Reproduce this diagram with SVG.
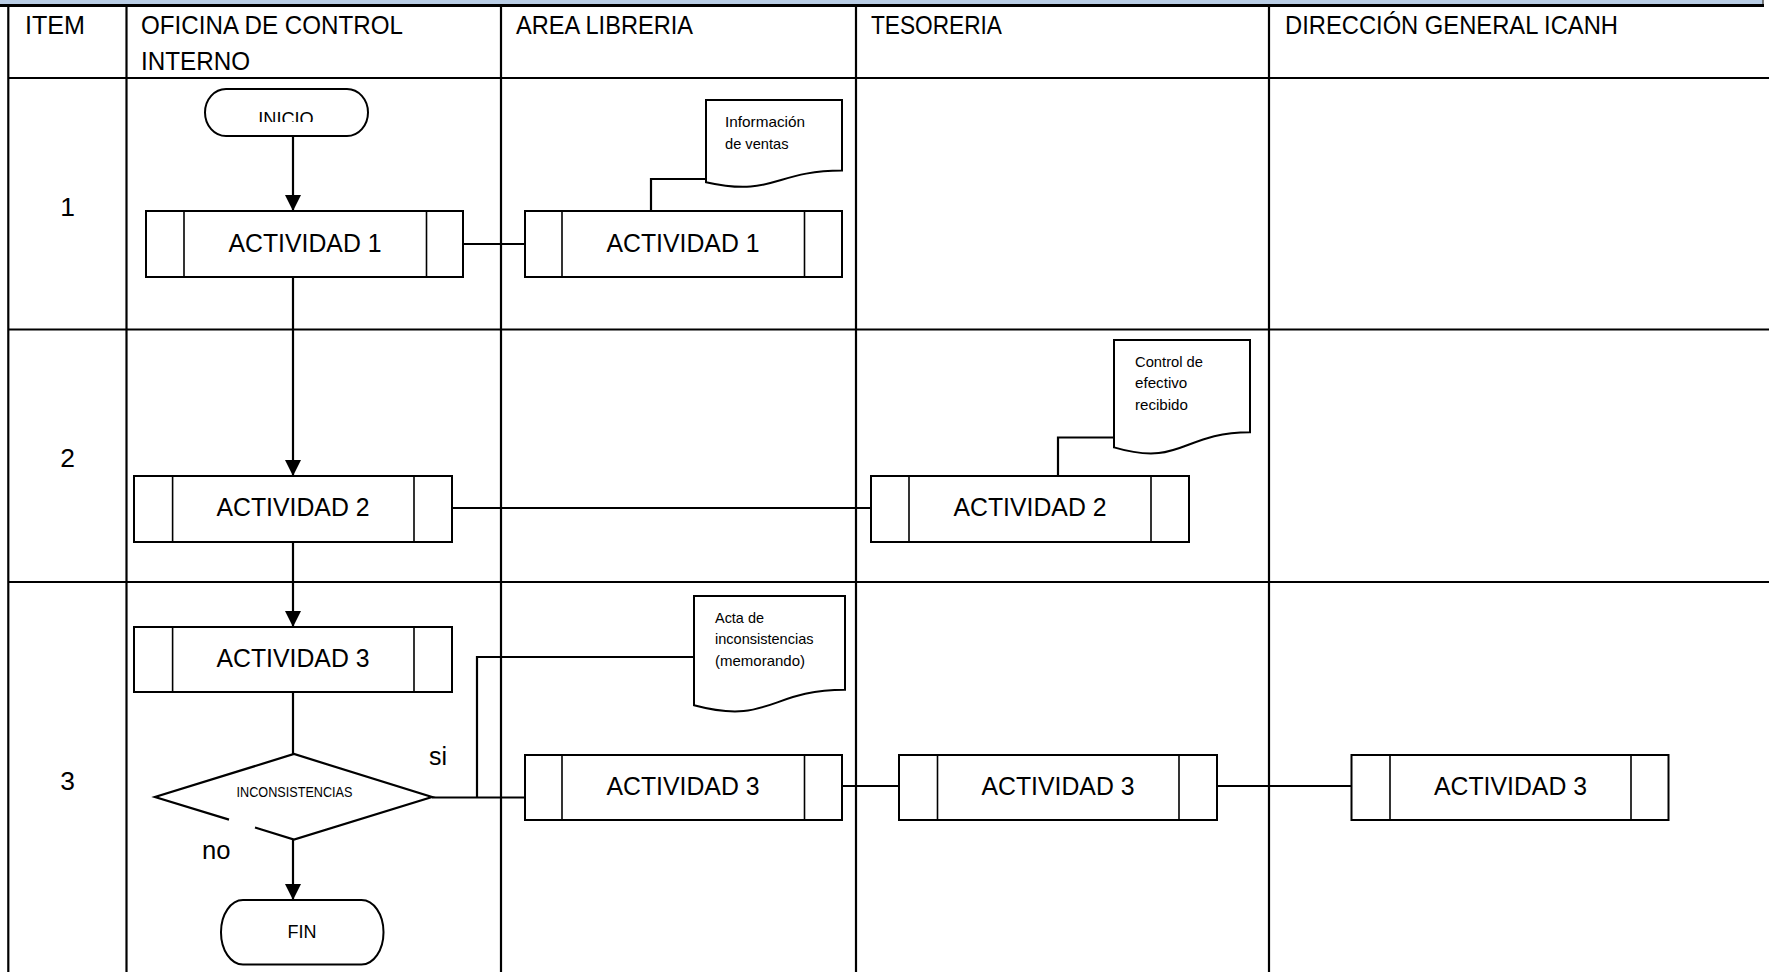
<svg xmlns="http://www.w3.org/2000/svg" width="1769" height="972" viewBox="0 0 1769 972">
<style>
.grid{stroke:#000;stroke-width:2.2;fill:none}
.box{fill:#fff;stroke:#000;stroke-width:2}
.div{stroke:#000;stroke-width:1.6}
.conn{stroke:#000;stroke-width:2.2;fill:none}
.doc{fill:#fff;stroke:#000;stroke-width:2}
.t{font-family:"Liberation Sans",Arial,sans-serif;fill:#000}
.big{font-size:26.4px}
.mid{font-size:19.2px}
.sm{font-size:14.4px}
.c{text-anchor:middle}
</style>
<defs>
<marker id="ah" viewBox="0 0 16 16" refX="16" refY="8" markerWidth="16" markerHeight="16" markerUnits="userSpaceOnUse" orient="auto">
<path d="M0,0 L16,8 L0,16 Z" fill="#000"/>
</marker>
<clipPath id="clipInicio"><rect x="205" y="89" width="163" height="33"/></clipPath>
</defs>
<rect width="1769" height="972" fill="#fff"/>
<g id="table">
<rect x="0" y="0" width="1763" height="4.5" fill="#b9cde5"/>
<line x1="1763" y1="0" x2="1763" y2="6" stroke="#555" stroke-width="1.5"/>
<line x1="0" y1="5.5" x2="1764" y2="5.5" stroke="#000" stroke-width="3"/>
<line class="grid" x1="8.3" y1="5" x2="8.3" y2="972"/>
<line class="grid" x1="126.5" y1="5" x2="126.5" y2="972"/>
<line class="grid" x1="501" y1="5" x2="501" y2="972"/>
<line class="grid" x1="856" y1="5" x2="856" y2="972"/>
<line class="grid" x1="1269" y1="5" x2="1269" y2="972"/>
<line class="grid" x1="8" y1="78" x2="1769" y2="78"/>
<line class="grid" x1="8" y1="329.5" x2="1769" y2="329.5"/>
<line class="grid" x1="8" y1="582" x2="1769" y2="582"/>
<text class="t big" x="25" y="34" textLength="60" lengthAdjust="spacingAndGlyphs">ITEM</text>
<text class="t big" x="141" y="34" textLength="262" lengthAdjust="spacingAndGlyphs">OFICINA DE CONTROL</text>
<text class="t big" x="141" y="70" textLength="109" lengthAdjust="spacingAndGlyphs">INTERNO</text>
<text class="t big" x="516" y="34" textLength="177" lengthAdjust="spacingAndGlyphs">AREA LIBRERIA</text>
<text class="t big" x="871" y="34" textLength="131" lengthAdjust="spacingAndGlyphs">TESORERIA</text>
<text class="t big" x="1285" y="34" textLength="333" lengthAdjust="spacingAndGlyphs">DIRECCIÓN GENERAL ICANH</text>
<text class="t big c" x="67.7" y="216">1</text>
<text class="t big c" x="67.7" y="467">2</text>
<text class="t big c" x="67.7" y="790">3</text>
</g>
<g id="connectors">
<line class="conn" x1="293" y1="136" x2="293" y2="211" marker-end="url(#ah)"/>
<line class="conn" x1="293" y1="277" x2="293" y2="476" marker-end="url(#ah)"/>
<line class="conn" x1="293" y1="541" x2="293" y2="627" marker-end="url(#ah)"/>
<line class="conn" x1="293" y1="692" x2="293" y2="754" stroke-width="1.6"/>
<line class="conn" x1="293" y1="839" x2="293" y2="900" marker-end="url(#ah)"/>
<line class="conn" x1="463" y1="244" x2="525" y2="244"/>
<polyline class="conn" points="651,211 651,179 706,179"/>
<line class="conn" x1="452" y1="508" x2="871" y2="508"/>
<polyline class="conn" points="1058,476 1058,437.5 1114,437.5"/>
<line class="conn" x1="432" y1="797.5" x2="525" y2="797.5"/>
<polyline class="conn" points="477,797.5 477,657 694,657"/>
<line class="conn" x1="842" y1="786" x2="899" y2="786"/>
<line class="conn" x1="1217" y1="786" x2="1351.5" y2="786"/>
</g>
<g id="inicio">
<rect class="box" x="205" y="89" width="163" height="47" rx="21" ry="23.5"/>
<text class="t mid c" x="286" y="125.4" textLength="55.5" lengthAdjust="spacingAndGlyphs" clip-path="url(#clipInicio)">INICIO</text>
</g>
<g id="act1-oci">
<rect class="box" x="146" y="211" width="317" height="66"/>
<line class="div" x1="184" y1="211" x2="184" y2="277"/>
<line class="div" x1="426.5" y1="211" x2="426.5" y2="277"/>
<text class="t big c" x="305" y="252" textLength="153" lengthAdjust="spacingAndGlyphs">ACTIVIDAD 1</text>
</g>
<g id="act1-lib">
<rect class="box" x="525" y="211" width="317" height="66"/>
<line class="div" x1="562" y1="211" x2="562" y2="277"/>
<line class="div" x1="804.5" y1="211" x2="804.5" y2="277"/>
<text class="t big c" x="683" y="252" textLength="153" lengthAdjust="spacingAndGlyphs">ACTIVIDAD 1</text>
</g>
<g id="doc-ventas">
<path class="doc" d="M706,100 H842 V170.6 C774,170.6 774,197.4 706,182.2 Z"/>
<text class="t sm" x="725" y="127" textLength="80" lengthAdjust="spacingAndGlyphs">Información</text>
<text class="t sm" x="725" y="149" textLength="63.5" lengthAdjust="spacingAndGlyphs">de ventas</text>
</g>
<g id="act2-oci">
<rect class="box" x="134" y="476" width="318" height="66"/>
<line class="div" x1="172.6" y1="476" x2="172.6" y2="542"/>
<line class="div" x1="414" y1="476" x2="414" y2="542"/>
<text class="t big c" x="293" y="516" textLength="153" lengthAdjust="spacingAndGlyphs">ACTIVIDAD 2</text>
</g>
<g id="act2-tes">
<rect class="box" x="871" y="476" width="318" height="66"/>
<line class="div" x1="909" y1="476" x2="909" y2="542"/>
<line class="div" x1="1151" y1="476" x2="1151" y2="542"/>
<text class="t big c" x="1030" y="516" textLength="153" lengthAdjust="spacingAndGlyphs">ACTIVIDAD 2</text>
</g>
<g id="doc-control">
<path class="doc" d="M1114,340 H1250 V432.2 C1182,432.2 1182,467.3 1114,447.4 Z"/>
<text class="t sm" x="1135" y="366.7" textLength="68" lengthAdjust="spacingAndGlyphs">Control de</text>
<text class="t sm" x="1135" y="388.3" textLength="52.3" lengthAdjust="spacingAndGlyphs">efectivo</text>
<text class="t sm" x="1135" y="410" textLength="52.9" lengthAdjust="spacingAndGlyphs">recibido</text>
</g>
<g id="act3-oci">
<rect class="box" x="134" y="627" width="318" height="65"/>
<line class="div" x1="172.6" y1="627" x2="172.6" y2="692"/>
<line class="div" x1="414" y1="627" x2="414" y2="692"/>
<text class="t big c" x="293" y="667" textLength="153" lengthAdjust="spacingAndGlyphs">ACTIVIDAD 3</text>
</g>
<g id="decision">
<polygon points="294,754 432,797 294,839.5 155,797" fill="#fff"/>
<path class="conn" d="M229,819.6 L155,797 L294,754 L432,797 L294,839.5 L255,827.5"/>
<text class="t sm c" x="294.5" y="796.7" textLength="116" lengthAdjust="spacingAndGlyphs">INCONSISTENCIAS</text>
<text class="t big" x="429" y="765" textLength="18" lengthAdjust="spacingAndGlyphs">si</text>
<text class="t big" x="202" y="859" textLength="28.5" lengthAdjust="spacingAndGlyphs">no</text>
</g>
<g id="fin">
<rect class="box" x="221" y="900" width="162.5" height="64.5" rx="22" ry="32"/>
<text class="t mid c" x="302" y="938" textLength="29" lengthAdjust="spacingAndGlyphs">FIN</text>
</g>
<g id="doc-acta">
<path class="doc" d="M694,596 H845 V689.8 C769.5,689.8 769.5,725.5 694,705.3 Z"/>
<text class="t sm" x="715" y="622.5" textLength="49" lengthAdjust="spacingAndGlyphs">Acta de</text>
<text class="t sm" x="715" y="644" textLength="98.5" lengthAdjust="spacingAndGlyphs">inconsistencias</text>
<text class="t sm" x="715" y="666" textLength="90" lengthAdjust="spacingAndGlyphs">(memorando)</text>
</g>
<g id="act3-lib">
<rect class="box" x="525" y="755" width="317" height="65"/>
<line class="div" x1="562" y1="755" x2="562" y2="820"/>
<line class="div" x1="804.5" y1="755" x2="804.5" y2="820"/>
<text class="t big c" x="683" y="795" textLength="153" lengthAdjust="spacingAndGlyphs">ACTIVIDAD 3</text>
</g>
<g id="act3-tes">
<rect class="box" x="899" y="755" width="318" height="65"/>
<line class="div" x1="937.5" y1="755" x2="937.5" y2="820"/>
<line class="div" x1="1179" y1="755" x2="1179" y2="820"/>
<text class="t big c" x="1058" y="795" textLength="153" lengthAdjust="spacingAndGlyphs">ACTIVIDAD 3</text>
</g>
<g id="act3-dir">
<rect class="box" x="1351.5" y="755" width="317" height="65"/>
<line class="div" x1="1390" y1="755" x2="1390" y2="820"/>
<line class="div" x1="1631" y1="755" x2="1631" y2="820"/>
<text class="t big c" x="1510.5" y="795" textLength="153" lengthAdjust="spacingAndGlyphs">ACTIVIDAD 3</text>
</g>
</svg>
